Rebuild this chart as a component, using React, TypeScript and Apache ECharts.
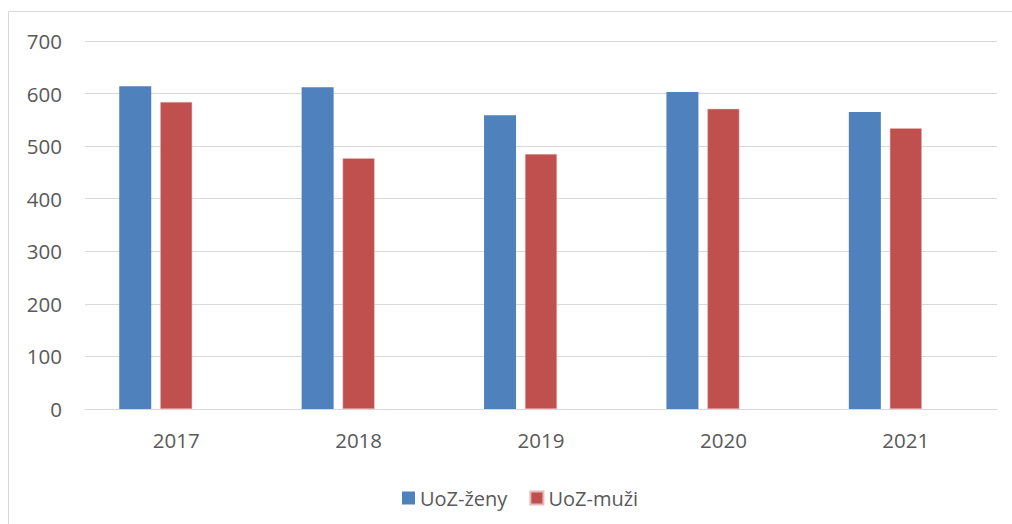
import React, { useEffect, useRef } from "react";
import * as echarts from "echarts";

const categories = ["2017", "2018", "2019", "2020", "2021"];
const zeny = [614, 612, 559, 603, 565];
const muzi = [584, 477, 485, 571, 534];
const yTicks = { min: 0, max: 700, interval: 100 };

export default function App() {
  const ref = useRef<HTMLDivElement>(null);
  useEffect(() => {
    document.body.style.margin = "0";
    const chart = echarts.init(ref.current!, null, { renderer: "svg" });
    const font = "'Open Sans', 'Liberation Sans', sans-serif";
    chart.setOption({
      animation: false,
      textStyle: { fontFamily: font },
      graphic: [
        {
          type: "rect",
          shape: { x: 8.5, y: 11.5, width: 1010, height: 520 },
          style: { fill: "none", stroke: "#d9d9d9", lineWidth: 1 },
          silent: true,
        },
      ],
      grid: { left: 85, right: 15, top: 41, bottom: 115 },
      legend: {
        data: ["UoZ-ženy", "UoZ-muži"],
        left: 397,
        top: 483,
        itemWidth: 13,
        itemHeight: 13,
        itemGap: 22,
        icon: "rect",
        textStyle: { color: "#595959", fontSize: 20, fontFamily: font },
      },
      xAxis: {
        type: "category",
        data: categories,
        axisLine: { lineStyle: { color: "#d9d9d9" } },
        axisTick: { show: false },
        axisLabel: { color: "#595959", fontSize: 20.5, margin: 20, fontFamily: font },
      },
      yAxis: {
        type: "value",
        min: yTicks.min,
        max: yTicks.max,
        interval: yTicks.interval,
        axisLine: { show: false },
        axisTick: { show: false },
        splitLine: { lineStyle: { color: "#d9d9d9", width: 1 } },
        axisLabel: { color: "#595959", fontSize: 20.5, margin: 23, fontFamily: font },
      },
      series: [
        {
          name: "UoZ-ženy",
          type: "bar",
          data: zeny,
          barWidth: 32,
          barGap: "28%",
          itemStyle: { color: "#4F81BD" },
        },
        {
          name: "UoZ-muži",
          type: "bar",
          data: muzi,
          barWidth: 32,
          barGap: "28%",
          itemStyle: { color: "#C0504D", borderColor: "#E6B9B8", borderWidth: 0.5 },
        },
        {
          name: "empty",
          type: "bar",
          data: [null, null, null, null, null],
          barWidth: 32,
          barGap: "28%",
          itemStyle: { color: "#9BBB59" },
        },
      ],
    });
    return () => chart.dispose();
  }, []);
  return <div ref={ref} style={{ width: 1012, height: 524 }} />;
}
